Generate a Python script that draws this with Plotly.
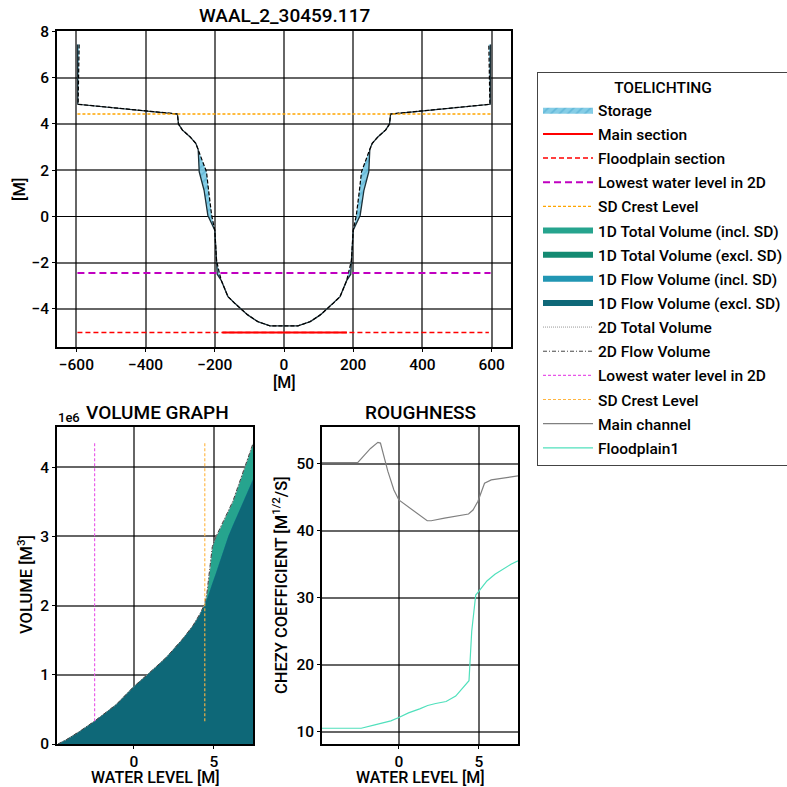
import plotly.graph_objects as go

# ---------------- DATA ----------------
# Cross-section (top plot): levels and half widths
cs_z = [-4.74, -4.55, -4.26, -3.75, -3.47, -2.78, -2.50, -1.90, -0.60, 0.04, 1.13, 1.93, 2.90, 3.16, 3.45, 3.74, 4.00, 4.43, 4.85, 7.44]
cs_total_half = [40, 76, 105, 143, 162, 181, 193, 195, 200, 220, 231, 245, 248, 255, 272, 294, 305, 308, 596, 597]
cs_flow_half = [40, 76, 105, 143, 162, 181, 186, 195, 200, 209, 218, 224, 248, 255, 272, 294, 305, 308, 595, 592]
main_section_x = [-178, 182]
floodplain_section_x = [-597, 592]
section_level = -5.02
lowest_wl_2d = -2.45
sd_crest = 4.43
hline_x = [-597, 597]

# Volume graph (volumes in 1e6 m3)
wl = [-4.74, -4.23, -3.40, -2.46, -1.10, 0.00, 0.98, 2.02, 3.06, 3.69, 4.10, 4.42, 4.56, 4.77, 4.90, 5.10, 5.90, 6.19, 7.44]
vol_total_1d = [0.00, 0.063, 0.18, 0.33, 0.57, 0.83, 1.03, 1.25, 1.52, 1.71, 1.86, 2.00, 2.15, 2.54, 2.83, 2.97, 3.36, 3.50, 4.33]
vol_flow_1d = [0.00, 0.063, 0.18, 0.33, 0.57, 0.83, 1.03, 1.25, 1.52, 1.71, 1.86, 2.00, 2.09, 2.23, 2.32, 2.45, 3.00, 3.16, 3.82]
vol_total_2d = [0.00, 0.060, 0.18, 0.33, 0.57, 0.83, 1.03, 1.25, 1.52, 1.71, 1.87, 2.02, 2.17, 2.56, 2.85, 2.98, 3.37, 3.51, 4.34]
vol_flow_2d = [0.00, 0.060, 0.18, 0.33, 0.57, 0.83, 1.03, 1.25, 1.52, 1.71, 1.87, 2.02, 2.17, 2.56, 2.85, 2.98, 3.37, 3.51, 4.34]
vline_vol = [0.33, 4.35]

# Roughness graph
rough_main_wl = [-4.81, -2.56, -2.15, -1.77, -1.31, -1.15, -0.69, -0.31, 0.00, 0.56, 1.77, 2.02, 2.85, 4.35, 4.63, 4.94, 5.35, 5.77, 7.44]
rough_main = [50.2, 50.2, 51.3, 52.3, 53.2, 53.1, 48.9, 46.1, 44.6, 43.6, 41.5, 41.5, 41.9, 42.5, 43.1, 44.4, 47.1, 47.6, 48.2]
rough_fp_wl = [-4.81, -2.35, -1.50, -0.50, 0.00, 0.60, 1.30, 1.80, 2.30, 2.95, 3.55, 4.00, 4.38, 4.55, 4.80, 5.00, 5.50, 6.00, 6.50, 7.00, 7.44]
rough_fp = [10.5, 10.5, 11.0, 11.6, 12.1, 12.8, 13.4, 13.9, 14.2, 14.5, 15.3, 16.5, 17.6, 25.0, 30.4, 31.0, 32.5, 33.5, 34.3, 35.0, 35.5]

FONT = "Roboto"
WEIGHT = 500
fig = go.Figure()

# ---------------- TOP: cross-section ----------------
sx, sy = [], []
for sign in (-1, 1):
    sx += [sign * w for w in cs_total_half] + [sign * w for w in cs_flow_half[::-1]] + [None]
    sy += cs_z + cs_z[::-1] + [None]
fig.add_trace(go.Scatter(x=sx, y=sy, mode="lines", fill="toself", line=dict(width=0),
                         fillcolor="rgba(92,190,222,0.9)",
                         fillpattern=dict(shape="/", fgcolor="rgba(60,160,200,0.9)", bgcolor="rgba(120,200,228,0.9)", size=6, solidity=0.3),
                         name="Storage", legendrank=1, xaxis="x", yaxis="y"))
fig.add_trace(go.Scatter(x=[-w for w in cs_total_half[::-1]] + cs_total_half, y=cs_z[::-1] + cs_z,
                         mode="lines", line=dict(color="#1c3038", width=1.3), showlegend=False, xaxis="x", yaxis="y"))
fig.add_trace(go.Scatter(x=[-w for w in cs_flow_half[::-1]] + cs_flow_half, y=cs_z[::-1] + cs_z,
                         mode="lines", line=dict(color="black", width=1.2, dash="4px,2px"), showlegend=False, xaxis="x", yaxis="y"))
fig.add_trace(go.Scatter(x=floodplain_section_x, y=[section_level] * 2, mode="lines",
                         line=dict(color="red", width=1.5, dash="5px,3px"), name="Floodplain section", legendrank=3, xaxis="x", yaxis="y"))
fig.add_trace(go.Scatter(x=main_section_x, y=[section_level] * 2, mode="lines",
                         line=dict(color="red", width=2), name="Main section", legendrank=2, xaxis="x", yaxis="y"))
fig.add_trace(go.Scatter(x=hline_x, y=[lowest_wl_2d] * 2, mode="lines",
                         line=dict(color="#c000c0", width=2, dash="7px,4px"), name="Lowest water level in 2D", legendrank=4, xaxis="x", yaxis="y"))
fig.add_trace(go.Scatter(x=hline_x, y=[sd_crest] * 2, mode="lines",
                         line=dict(color="#ffa500", width=1.3, dash="3px,2px"), name="SD Crest Level", legendrank=5, xaxis="x", yaxis="y"))

# ---------------- VOLUME GRAPH ----------------
fig.add_trace(go.Scatter(x=wl, y=vol_total_1d, mode="none", fill="tozeroy", fillcolor="#26a48e",
                         name="1D Total Volume (incl. SD)", legendrank=6, xaxis="x2", yaxis="y2"))
fig.add_trace(go.Scatter(x=wl, y=vol_flow_1d, mode="none", fill="tozeroy", fillcolor="#148a72",
                         name="1D Total Volume (excl. SD)", legendrank=7, xaxis="x2", yaxis="y2"))
fig.add_trace(go.Scatter(x=wl, y=vol_flow_1d, mode="none", fill="tozeroy", fillcolor="#2196b3",
                         name="1D Flow Volume (incl. SD)", legendrank=8, xaxis="x2", yaxis="y2"))
fig.add_trace(go.Scatter(x=wl, y=vol_flow_1d, mode="none", fill="tozeroy", fillcolor="#0e6878",
                         name="1D Flow Volume (excl. SD)", legendrank=9, xaxis="x2", yaxis="y2"))
fig.add_trace(go.Scatter(x=wl, y=vol_total_2d, mode="lines", line=dict(color="#999999", width=1, dash="1px,1px"),
                         name="2D Total Volume", legendrank=10, xaxis="x2", yaxis="y2"))
fig.add_trace(go.Scatter(x=wl, y=vol_flow_2d, mode="lines", line=dict(color="#444444", width=1, dash="4px,2px,1px,2px"),
                         name="2D Flow Volume", legendrank=11, xaxis="x2", yaxis="y2"))
fig.add_trace(go.Scatter(x=[lowest_wl_2d] * 2, y=vline_vol, mode="lines", line=dict(color="#e855e8", width=1.1, dash="3px,2px"),
                         name="Lowest water level in 2D", legendrank=12, xaxis="x2", yaxis="y2"))
fig.add_trace(go.Scatter(x=[sd_crest] * 2, y=vline_vol, mode="lines", line=dict(color="#ffb540", width=1.1, dash="3px,2px"),
                         name="SD Crest Level", legendrank=13, xaxis="x2", yaxis="y2"))

# ---------------- ROUGHNESS ----------------
fig.add_trace(go.Scatter(x=rough_main_wl, y=rough_main, mode="lines", line=dict(color="#808080", width=1.2),
                         name="Main channel", legendrank=14, xaxis="x3", yaxis="y3"))
fig.add_trace(go.Scatter(x=rough_fp_wl, y=rough_fp, mode="lines", line=dict(color="#50e0bc", width=1.2),
                         name="Floodplain1", legendrank=15, xaxis="x3", yaxis="y3"))

# each legend entry in its own group so a small, even gap can be set between them
for i, tr in enumerate(fig.data):
    tr.legendgroup = f"g{i}"

# ---------------- LAYOUT ----------------
W = H = 787
def px_x(p):
    return p / W
def px_y(p):
    return 1 - p / H

grid = "rgba(0,0,0,0.6)"
axis_common = dict(showline=True, mirror=True, linecolor="black", linewidth=1.5,
                   ticks="outside", ticklen=3, tickcolor="black", tickwidth=1.2,
                   showgrid=True, gridcolor=grid, gridwidth=1.5, zeroline=False, automargin=False,
                   tickfont=dict(family=FONT, size=15.5, color="black", weight=WEIGHT))

fig.update_layout(
    width=W, height=H, margin=dict(l=0, r=0, t=0, b=0, autoexpand=False),
    paper_bgcolor="white", plot_bgcolor="white",
    font=dict(family=FONT, color="black"),
    xaxis=dict(domain=[px_x(57), px_x(511)], range=[-656, 656], tickvals=[-600, -400, -200, 0, 200, 400, 600],
               anchor="y", **axis_common),
    yaxis=dict(domain=[px_y(347), px_y(31)], range=[-5.65, 8.02], tickvals=[-4, -2, 0, 2, 4, 6, 8],
               anchor="x", **{**axis_common, "zeroline": True, "zerolinecolor": "black", "zerolinewidth": 1}),
    xaxis2=dict(domain=[px_x(57), px_x(253)], range=[-4.8, 7.44], tickvals=[0, 5], anchor="y2", **axis_common),
    yaxis2=dict(domain=[px_y(744), px_y(427)], range=[0, 4.58], tickvals=[0, 1, 2, 3, 4], anchor="x2", **axis_common),
    xaxis3=dict(domain=[px_x(322), px_x(518)], range=[-4.8, 7.44], tickvals=[0, 5], anchor="y3", **axis_common),
    yaxis3=dict(domain=[px_y(744), px_y(427)], range=[8.15, 55.5], tickvals=[10, 20, 30, 40, 50], anchor="x3", **axis_common),
    legend=dict(x=px_x(537), y=px_y(72), xanchor="left", yanchor="top",
                bordercolor="#444", borderwidth=1, bgcolor="white",
                font=dict(family=FONT, size=15.5, color="black", weight=WEIGHT),
                title=dict(text="TOELICHTING", side="top center", font=dict(family=FONT, size=15.5, weight=WEIGHT)),
                traceorder="grouped", tracegroupgap=1, itemwidth=50),
    showlegend=True,
)

ann = [
    dict(text="WAAL_2_30459.117", x=px_x(284), y=px_y(15), size=19, angle=0),
    dict(text="[M]", x=px_x(284), y=px_y(383), size=16, angle=0),
    dict(text="[M]", x=px_x(19), y=px_y(190), size=16.5, angle=-90),
    dict(text="VOLUME GRAPH", x=px_x(157), y=px_y(412), size=19, angle=0),
    dict(text="WATER LEVEL [M]", x=px_x(155), y=px_y(777), size=16, angle=0),
    dict(text="VOLUME [M<sup>3</sup>]", x=px_x(25), y=px_y(585), size=16.5, angle=-90),
    dict(text="ROUGHNESS", x=px_x(420), y=px_y(412), size=19, angle=0),
    dict(text="WATER LEVEL [M]", x=px_x(420), y=px_y(777), size=16, angle=0),
    dict(text="CHEZY COEFFICIENT [M<sup>1/2</sup>/S]", x=px_x(280), y=px_y(585), size=16.5, angle=-90),
    dict(text="1e6", x=px_x(69), y=px_y(418), size=13, angle=0),
]
for a in ann:
    fig.add_annotation(text=a["text"], x=a["x"], y=a["y"], xref="paper", yref="paper",
                       xanchor="center", yanchor="middle", showarrow=False, textangle=a["angle"],
                       font=dict(family=FONT, size=a["size"], color="black", weight=WEIGHT))

fig.write_html("out.html")
